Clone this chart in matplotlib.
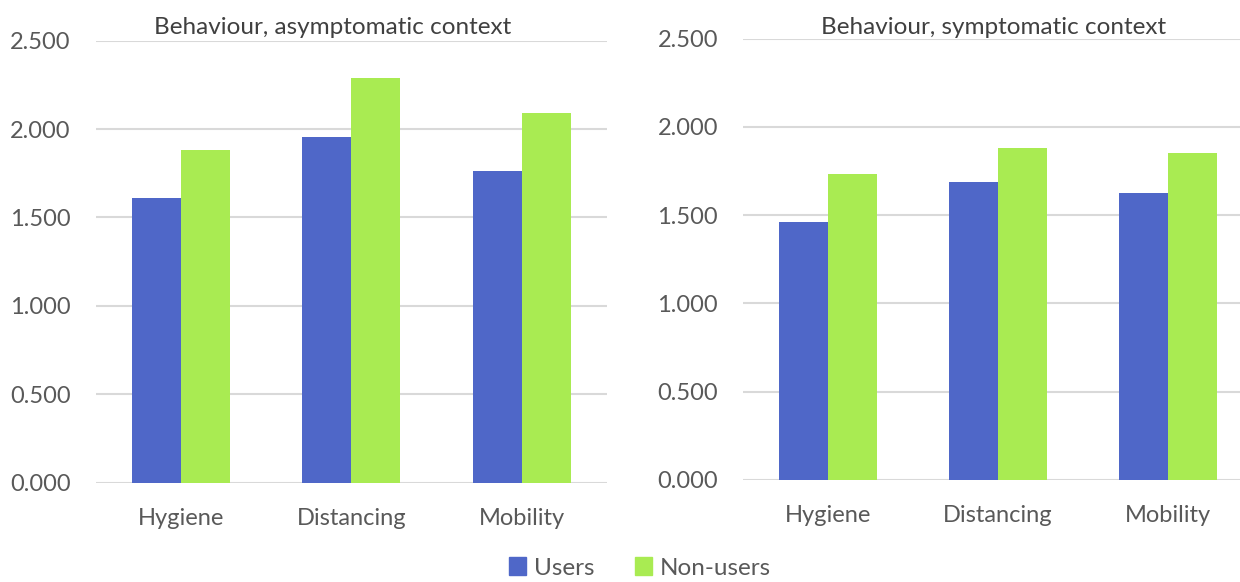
import numpy as np
import matplotlib.pyplot as plt
from matplotlib.ticker import FormatStrFormatter

plt.rcParams['font.family'] = ['Lato', 'DejaVu Sans']

# mean behaviour scores per category
categories = ['Hygiene', 'Distancing', 'Mobility']
series = ['Users', 'Non-users']

asym_users = [1.610, 1.957, 1.765]
asym_nonusers = [1.883, 2.287, 2.089]

sym_users = [1.462, 1.688, 1.626]
sym_nonusers = [1.734, 1.883, 1.851]

titles = ['Behaviour, asymptomatic context', 'Behaviour, symptomatic context']

blue = '#4F67C8'
green = '#A9EB52'
text_col = '#595959'
grid_col = '#D9D9D9'

fig = plt.figure(figsize=(12.4, 5.82), dpi=100)

W, H = 1240, 582
# axes boxes in pixel coordinates: left, bottom(y of zero), right, top(y of 2.5)
boxes = [(95.5, 482.7, 607, 40.7), (743, 480, 1253, 38.7)]
title_x = [333, 994]

data = [(asym_users, asym_nonusers), (sym_users, sym_nonusers)]

x = np.arange(len(categories))
w = 0.286

for i, (box, (users, nonusers)) in enumerate(zip(boxes, data)):
    l, b, r, t = box
    ax = fig.add_axes([l / W, 1 - b / H, (r - l) / W, (b - t) / H])
    ax.bar(x - w / 2, users, w, color=blue, label=series[0], zorder=3)
    ax.bar(x + w / 2, nonusers, w, color=green, label=series[1], zorder=3)
    ax.set_xlim(-0.5, 2.5)
    ax.set_ylim(0, 2.5)
    ax.set_yticks(np.arange(0, 2.51, 0.5))
    ax.yaxis.set_major_formatter(FormatStrFormatter('%.3f'))
    ax.set_xticks(x)
    ax.set_xticklabels(categories)
    ax.tick_params(length=0, labelsize=17, colors=text_col)
    ax.tick_params(axis='y', pad=18)
    ax.tick_params(axis='x', pad=18)
    ax.grid(axis='y', color=grid_col, linewidth=1.5, zorder=0)
    ax.set_axisbelow(True)
    for s in ax.spines.values():
        s.set_visible(False)
    fig.text(title_x[i] / W, 1 - 28 / H, titles[i], ha='center', va='center',
             fontsize=17.5, color='#404040')

handles = [plt.Rectangle((0, 0), 1, 1, color=blue), plt.Rectangle((0, 0), 1, 1, color=green)]
fig.legend(handles, series, loc='center', bbox_to_anchor=(640 / W, 1 - 568 / H),
           ncol=2, frameon=False, fontsize=17.5, labelcolor=text_col,
           handlelength=0.7, handleheight=0.7, handletextpad=0.3, columnspacing=1.7,
           borderpad=0.1)

fig.savefig('out.png', dpi=100)
